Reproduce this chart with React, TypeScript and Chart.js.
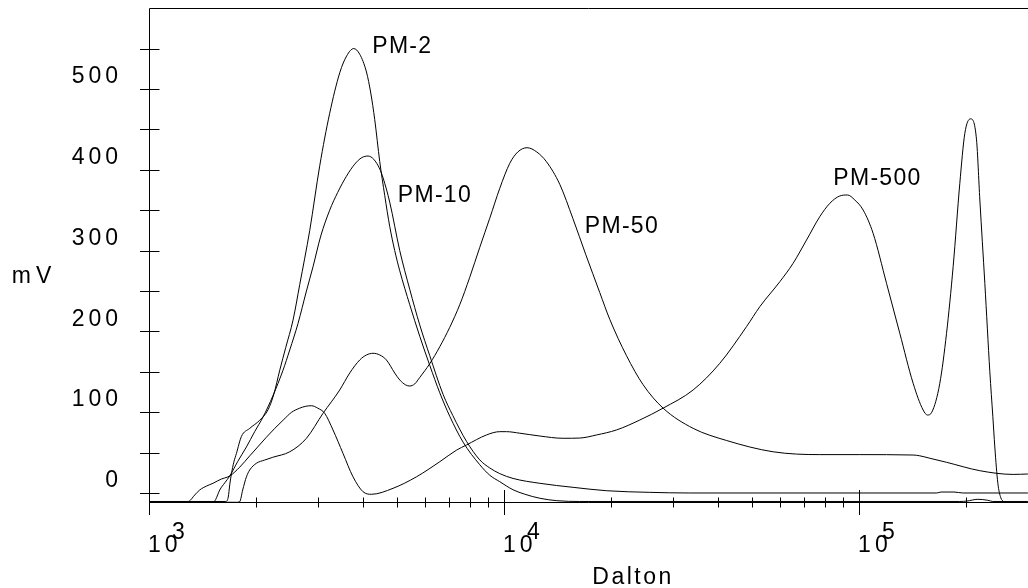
import { useEffect, useRef } from 'react';
import { Chart, registerables } from 'chart.js';

Chart.register(...registerables);

// ---------- DATA (Dalton, mV) ----------
const PM2_DATA: [number, number][] = [
  [1000, -10.5], [1645, -10.5], [1672, -5], [1688, 10], [1707, 24], [1733, 38], [1763, 49],
  [1821, 70], [1922, 80], [2050, 90], [2164, 103], [2246, 122], [2335, 152], [2427, 180],
  [2545, 214], [2658, 258], [2836, 325], [3026, 405], [3228, 470], [3445, 520], [3605, 541],
  [3772, 550], [3922, 543], [4097, 521], [4213, 495], [4323, 462], [4466, 410], [4613, 368],
  [4764, 330], [4921, 300], [5084, 275], [5425, 233], [5788, 194], [6176, 158], [6591, 124],
  [7031, 95], [7665, 63], [8542, 35], [9114, 22], [9725, 14], [10603, 4], [11437, -1.5],
  [12610, -6.5], [14075, -9.5], [16342, -10.5], [192150, -10.5], [201100, -10], [216000, -7.8],
  [230400, -9], [238000, -10.5], [298800, -10.5],
];

const PM10_DATA: [number, number][] = [
  [1000, -11], [1521, -11], [1541, -8], [1582, 3.7], [1634, 12.5], [1688, 21], [1778, 39],
  [1881, 57], [1985, 76], [2095, 94], [2232, 120], [2385, 152], [2491, 177], [2629, 210],
  [2776, 250], [2897, 280], [3046, 318], [3228, 350], [3400, 372], [3598, 392], [3797, 407],
  [3974, 415], [4140, 417], [4295, 413], [4466, 401], [4563, 390], [4764, 360], [5084, 300],
  [5425, 252], [5788, 208], [6176, 170], [6734, 122], [7170, 96], [7837, 64], [8542, 41],
  [9114, 31], [9725, 24], [10603, 18], [12610, 12], [15650, 7], [19467, 2.8], [25729, 0.8],
  [33361, 0], [165530, 0], [170000, 1.2], [185000, 1.2], [195910, 0], [298800, 0],
];

const PM50_DATA: [number, number][] = [
  [1000, -11.5], [1778, -11.5], [1801, -10.8], [1836, 3.7], [1881, 20], [1922, 28.5],
  [2007, 36.8], [2118, 40.8], [2232, 44.2], [2491, 51], [2776, 67.7], [3091, 98.6],
  [3445, 127.5], [3676, 148.5], [3922, 164.6], [4097, 170.8], [4276, 172.9], [4466, 170.8],
  [4664, 164.6], [4921, 148.5], [5084, 139.9], [5285, 133.7], [5425, 132.4], [5604, 135],
  [5788, 143], [6176, 160], [6591, 181], [7031, 205], [7503, 233], [8006, 267], [8542, 304],
  [9114, 340], [9725, 377], [10378, 408], [10930, 422], [11610, 427.3], [12366, 422],
  [13164, 410], [14352, 382], [15618, 340], [16991, 295], [18604, 248], [19845, 215],
  [22121, 170], [24640, 134], [28050, 105], [34083, 80], [42320, 65], [57261, 51],
  [77500, 47.5], [100460, 47.5], [141950, 47], [148250, 46], [158200, 43], [176290, 38],
  [218800, 27.6], [271600, 23], [298800, 23.5],
];

const PM500_DATA: [number, number][] = [
  [1000, -12], [1261, -12], [1294, -10.8], [1345, -2.5], [1389, 3.7], [1454, 8.7], [1514, 12],
  [1599, 17.3], [1634, 18.6], [1688, 21], [1801, 32], [1922, 46], [2024, 57], [2141, 69],
  [2261, 80], [2385, 90], [2523, 100], [2658, 105], [2763, 107.3], [2868, 108], [2987, 105],
  [3125, 98.6], [3298, 78], [3519, 49], [3755, 20], [4007, 1.6], [4232, -1.6], [4867, 5.8],
  [5665, 20], [6591, 38.7], [7344, 53], [7837, 59.4], [8921, 71.8], [9725, 75.9],
  [10158, 75.9], [11071, 74], [12610, 70.5], [14663, 67.7], [16342, 68], [18209, 71.8],
  [20730, 78], [24118, 90.3], [28050, 105], [34083, 127.5], [40520, 160.5], [48173, 205.8],
  [52528, 230.6], [59803, 261.5], [65183, 284.3], [71095, 313], [77500, 342], [82700, 358.5],
  [88230, 367.6], [92750, 368.8], [97250, 362.6], [102640, 350.2], [109490, 321.4],
  [119460, 259.5], [130200, 197.6], [141950, 135.8], [151450, 102.7], [155850, 96.5],
  [160250, 100], [168770, 135.8], [176290, 197.6], [184000, 280], [192150, 383.3],
  [198480, 445], [205980, 463], [214150, 437], [218800, 362.6], [226000, 259.5],
  [233450, 150], [238000, 95], [241100, 57], [245900, 12], [250700, -6], [255600, -11],
  [262400, -20], [298800, -20],
];

const SERIES_NAMES = ['PM-2', 'PM-10', 'PM-50', 'PM-500'];
// label anchor points (Dalton, mV) = left end of the text baseline
const LABEL_ANCHORS: [number, number][] = [
  [4254, 545], [5020, 360.5], [16880, 321.4], [84580, 381.2],
];

const Y_TICKS = [0, 50, 100, 150, 200, 250, 300, 350, 400, 450, 500, 550];
const Y_LABEL_VALUES = [0, 100, 200, 300, 400, 500];
const Y_LABELS = ['0', '100', '200', '300', '400', '500'];
const X_MAJOR_TICKS = [1000, 10000, 100000];
const X_MINOR_TICKS = [
  2000, 3000, 4000, 5000, 6000, 7000, 8000, 9000,
  20000, 30000, 40000, 50000, 60000, 70000, 80000, 90000,
  200000,
];
const X_TICK_BASE = '10';
const X_TICK_EXPONENTS = ['3', '4', '5'];
const X_TITLE = 'Dalton';
const Y_TITLE = 'mV';

const X_MIN = 1000;
const X_MAX = 299000;
const Y_MIN = -11.14;
const Y_MAX = 600.2;

const FONT = '"Liberation Sans", Arial, Helvetica, sans-serif';

function inkWidth(ctx: CanvasRenderingContext2D, text: string, ls: number) {
  const prev = (ctx as any).letterSpacing;
  (ctx as any).letterSpacing = '0px';
  const w = ctx.measureText(text).width;
  (ctx as any).letterSpacing = prev;
  return w + (text.length - 1) * ls;
}

function drawText(ctx: CanvasRenderingContext2D, text: string, x: number, y: number, ls: number) {
  (ctx as any).letterSpacing = `${ls}px`;
  ctx.fillText(text, x, y);
}

const framePlugin = {
  id: 'gpcFrame',
  afterDraw(chart: any) {
    const { ctx, chartArea: a } = chart;
    const xs = chart.scales.x;
    const ys = chart.scales.y;
    ctx.save();
    ctx.strokeStyle = '#000';
    ctx.lineWidth = 1;
    const L = Math.round(a.left) + 0.5;
    const R = a.right;
    const T = Math.round(a.top) + 0.5;
    const B = Math.round(a.bottom) + 0.5;
    ctx.beginPath();
    ctx.moveTo(L, T); ctx.lineTo(R, T);
    ctx.moveTo(L, T); ctx.lineTo(L, B);
    ctx.moveTo(L, B); ctx.lineTo(R, B);
    for (const v of Y_TICKS) {
      const py = Math.round(ys.getPixelForValue(v)) + 0.5;
      ctx.moveTo(L - 9.5, py); ctx.lineTo(L + 10, py);
    }
    for (const v of X_MAJOR_TICKS) {
      const px = Math.round(xs.getPixelForValue(v)) + 0.5;
      ctx.moveTo(px, B - 12.5); ctx.lineTo(px, B + 12.5);
    }
    for (const v of X_MINOR_TICKS) {
      if (v > X_MAX) continue;
      const px = Math.round(xs.getPixelForValue(v)) + 0.5;
      ctx.moveTo(px, B - 5); ctx.lineTo(px, B + 5);
    }
    ctx.stroke();

    ctx.fillStyle = '#000';
    ctx.textAlign = 'left';
    ctx.textBaseline = 'alphabetic';
    ctx.font = `23px ${FONT}`;

    // y tick labels (right aligned, shifted up from their tick)
    Y_LABEL_VALUES.forEach((v, i) => {
      const t = Y_LABELS[i];
      const w = inkWidth(ctx, t, 4);
      const py = ys.getPixelForValue(v) - 5.7;
      drawText(ctx, t, 118 - w, py, 4);
    });

    // x tick labels 10^n
    X_MAJOR_TICKS.forEach((v, i) => {
      const px = xs.getPixelForValue(v);
      drawText(ctx, X_TICK_BASE, px - 1, 552, 4);
      drawText(ctx, X_TICK_EXPONENTS[i], px + 23, 539, 0);
    });

    // axis titles
    drawText(ctx, X_TITLE, 592.3, 584, 2.5);
    drawText(ctx, Y_TITLE, 11.8, 283.3, 5);

    // series labels
    SERIES_NAMES.forEach((name, i) => {
      const [mx, my] = LABEL_ANCHORS[i];
      drawText(ctx, name, xs.getPixelForValue(mx), ys.getPixelForValue(my), 1.3);
    });
    ctx.restore();
  },
};

export default function App() {
  const ref = useRef<HTMLCanvasElement>(null);
  useEffect(() => {
    if (!ref.current) return;
    const mk = (label: string, d: [number, number][]) => ({
      label,
      data: d.map(([x, y]) => ({ x, y })),
      borderColor: '#000',
      borderWidth: 1,
      pointRadius: 0,
      fill: false,
      cubicInterpolationMode: 'monotone' as const,
    });
    const chart = new Chart(ref.current, {
      type: 'line',
      data: {
        datasets: [
          mk(SERIES_NAMES[0], PM2_DATA),
          mk(SERIES_NAMES[1], PM10_DATA),
          mk(SERIES_NAMES[2], PM50_DATA),
          mk(SERIES_NAMES[3], PM500_DATA),
        ],
      },
      options: {
        responsive: false,
        maintainAspectRatio: false,
        animation: false,
        events: [],
        layout: { padding: { left: 149, top: 8, right: 0, bottom: 86 } },
        plugins: { legend: { display: false }, tooltip: { enabled: false } },
        scales: {
          x: { type: 'logarithmic', min: X_MIN, max: X_MAX, display: false },
          y: { type: 'linear', min: Y_MIN, max: Y_MAX, display: false },
        },
      },
      plugins: [framePlugin],
    });
    return () => chart.destroy();
  }, []);
  return (
    <div style={{ position: 'absolute', left: 0, top: 0, width: 1028, height: 588, background: '#fff' }}>
      <canvas ref={ref} width={1028} height={588} style={{ display: 'block', width: 1028, height: 588 }} />
    </div>
  );
}
